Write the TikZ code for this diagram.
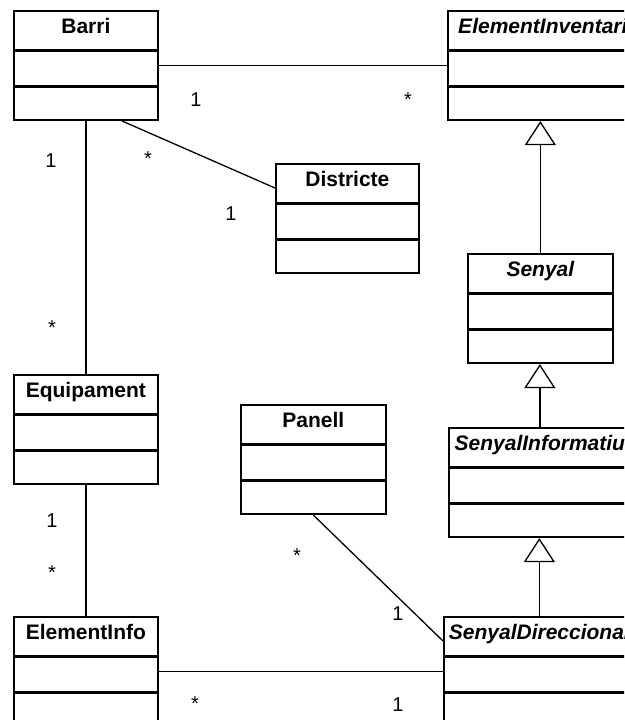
\documentclass[tikz,border=0pt]{standalone}
\usepackage{fontspec}
\setmainfont{Liberation Sans}
\usetikzlibrary{arrows.meta,calc,positioning}

\tikzset{
  hdr/.style={draw, line width=1.7pt, anchor=north west, minimum width=#1,
    minimum height=39pt, inner sep=0pt, text height=0.72em, text depth=0pt,
    font=\fontsize{21}{25}\selectfont\bfseries},
  ahdr/.style={hdr=#1, font=\fontsize{21}{25}\selectfont\bfseries\itshape},
  attr/.style={draw, line width=1.7pt, anchor=north west, minimum width=#1,
    minimum height=34pt, inner sep=0pt},
  oper/.style={attr=#1, minimum height=33pt},
  mult/.style={anchor=base, inner sep=0pt, font=\fontsize{20}{24}\selectfont},
  assoc/.style={line width=1.3pt},
  inherit/.style={line width=1.3pt, -{Triangle[open, length=24pt, width=31pt]}}
}

\begin{document}
\begin{tikzpicture}[x=1pt, y=-1pt]
\useasboundingbox (0,0) rectangle (624,720);
\clip (0,0) rectangle (624,720);

% classes: header, attributes, operations
\node[hdr=144pt] (Barri) at (13,10) {Barri};
\node[attr=144pt] (Barri-a) at (Barri.south west) {};
\node[oper=144pt] (Barri-o) at (Barri-a.south west) {};

\node[ahdr=190pt] (EI) at (447,10) {ElementInventari};
\node[attr=190pt] (EI-a) at (EI.south west) {};
\node[oper=190pt] (EI-o) at (EI-a.south west) {};

\node[hdr=143pt] (Districte) at (275,163) {Districte};
\node[attr=143pt] (Districte-a) at (Districte.south west) {};
\node[oper=143pt] (Districte-o) at (Districte-a.south west) {};

\node[ahdr=145pt] (Senyal) at (467,253) {Senyal};
\node[attr=145pt] (Senyal-a) at (Senyal.south west) {};
\node[oper=145pt] (Senyal-o) at (Senyal-a.south west) {};

\node[hdr=144pt] (Equipament) at (13,374) {Equipament};
\node[attr=144pt] (Equipament-a) at (Equipament.south west) {};
\node[oper=144pt] (Equipament-o) at (Equipament-a.south west) {};

\node[hdr=145pt] (Panell) at (240,404) {Panell};
\node[attr=145pt] (Panell-a) at (Panell.south west) {};
\node[oper=145pt] (Panell-o) at (Panell-a.south west) {};

\node[ahdr=182pt] (SI) at (448,427) {SenyalInformatiu};
\node[attr=182pt] (SI-a) at (SI.south west) {};
\node[oper=182pt] (SI-o) at (SI-a.south west) {};

\node[hdr=144pt] (ElementInfo) at (13,616) {ElementInfo};
\node[attr=144pt] (ElementInfo-a) at (ElementInfo.south west) {};
\node[oper=144pt] (ElementInfo-o) at (ElementInfo-a.south west) {};

\node[ahdr=191pt] (SD) at (443,616) {SenyalDireccional};
\node[attr=191pt] (SD-a) at (SD.south west) {};
\node[oper=191pt] (SD-o) at (SD-a.south west) {};

% associations
\coordinate (ba) at ($(Barri-a.east)+(0,-3)$);
\draw[assoc] (ba) -- (ba -| EI-a.west);
\draw[assoc] ($(Barri-o.south west)!0.75!(Barri-o.south east)$) -- ($(Districte.north west)+(0,25)$);
\draw[assoc] (Barri-o.south) -- (Equipament.north);
\draw[assoc] (Equipament-o.south) -- (ElementInfo.north);
\draw[assoc] (Panell-o.south) -- ($(SD.north west)+(0,25)$);
\coordinate (ea) at ($(ElementInfo-a.east)+(0,-3)$);
\draw[assoc] (ea) -- (ea -| SD-a.west);

% generalisations
\draw[inherit] (Senyal.north) -- (Senyal.north |- EI-o.south);
\draw[inherit] (SI.north) -- (SI.north |- Senyal-o.south);
\draw[inherit] (SD.north) -- (SD.north |- SI-o.south);

% multiplicities
\node[mult] (bei-1) at (196,106) {1};
\node[mult] (bei-n) at (408,106) {*};
\node[mult] (bd-n) at (148,165) {*};
\node[mult] (bd-1) at (231,220) {1};
\node[mult] (be-1) at (51,167) {1};
\node[mult] (be-n) at (52,334) {*};
\node[mult] (ee-1) at (52,527) {1};
\node[mult] (ee-n) at (52,579) {*};
\node[mult] (ps-n) at (297,562) {*};
\node[mult] (ps-1) at (398,620) {1};
\node[mult] (es-n) at (195,710) {*};
\node[mult] (es-1) at (398,711) {1};
\end{tikzpicture}
\end{document}
